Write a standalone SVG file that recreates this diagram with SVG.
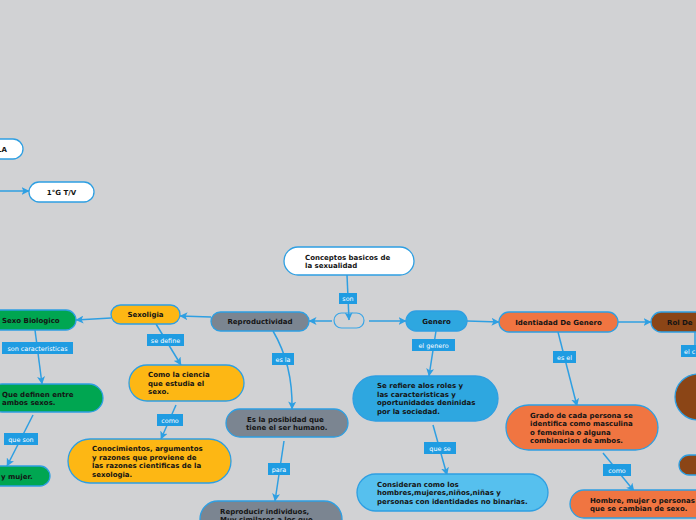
<svg xmlns="http://www.w3.org/2000/svg" width="696" height="520" viewBox="0 0 696 520">
<style>
.n{stroke:#2e9fe2;stroke-width:1.3}
.t{font-family:"DejaVu Sans",Verdana,sans-serif;font-weight:bold;font-size:7px;fill:#141414}
.c{fill:none;stroke:#2e9fe2;stroke-width:1.5}
.lb{fill:#1f9ce2}
.lt{font-family:"DejaVu Sans",Verdana,sans-serif;font-size:6.4px;fill:#ffffff;text-anchor:middle}
.w{fill:#ffffff}.g{fill:#7b8591}.y{fill:#fdb714}.gr{fill:#00a651}.b{fill:#2ea7e0}.lbn{fill:#56c0ee}.o{fill:#f07541}.br{fill:#8b4516}
</style>
<defs>
<marker id="ar" viewBox="0 0 8 8" refX="7.5" refY="4" markerWidth="8" markerHeight="8" orient="auto" markerUnits="userSpaceOnUse">
<path d="M0,0 L8,4 L0,8 L2,4 z" fill="#2e9fe2"/>
</marker>
</defs>
<rect width="696" height="520" fill="#d1d2d4"/>

<g id="connectors">
<path class="c" d="M0,191 L29,191" marker-end="url(#ar)"/>
<path class="c" d="M347,275 L349,320" marker-end="url(#ar)"/>
<path class="c" d="M332,321 L309,321" marker-end="url(#ar)"/>
<path class="c" d="M369,321 L406,321" marker-end="url(#ar)"/>
<path class="c" d="M211,317 L180,316" marker-end="url(#ar)"/>
<path class="c" d="M111,318 L76,320" marker-end="url(#ar)"/>
<path class="c" d="M35,330 L42,384" marker-end="url(#ar)"/>
<path class="c" d="M33,415 L7,466" marker-end="url(#ar)"/>
<path class="c" d="M156,324 L181,365" marker-end="url(#ar)"/>
<path class="c" d="M176,405 L161,439" marker-end="url(#ar)"/>
<path class="c" d="M273,331 Q293,365 292,409" marker-end="url(#ar)"/>
<path class="c" d="M284,441 L275,501" marker-end="url(#ar)"/>
<path class="c" d="M467,321 L499,322" marker-end="url(#ar)"/>
<path class="c" d="M618,322 L651,322" marker-end="url(#ar)"/>
<path class="c" d="M436,331 L429,376" marker-end="url(#ar)"/>
<path class="c" d="M433,425 L447,475" marker-end="url(#ar)"/>
<path class="c" d="M558,332 L577,406" marker-end="url(#ar)"/>
<path class="c" d="M603,453 L634,491" marker-end="url(#ar)"/>
<path class="c" d="M695,332 L695,345"/>
<g id="labels">
<rect class="lb" x="339" y="293" width="18" height="11"/><text class="lt" x="348" y="301">son</text>
<rect class="lb" x="2" y="342" width="71" height="12"/><text class="lt" x="37.5" y="350.5">son caracteristicas</text>
<rect class="lb" x="4" y="433" width="34" height="12"/><text class="lt" x="21" y="441.5">que son</text>
<rect class="lb" x="147" y="334" width="37" height="12"/><text class="lt" x="165.5" y="342.5">se define</text>
<rect class="lb" x="157" y="414" width="26" height="12"/><text class="lt" x="170" y="422.5">como</text>
<rect class="lb" x="272" y="353" width="22" height="12"/><text class="lt" x="283" y="361.5">es la</text>
<rect class="lb" x="268" y="463" width="22" height="12"/><text class="lt" x="279" y="471.5">para</text>
<rect class="lb" x="412" y="339" width="43" height="12"/><text class="lt" x="433.5" y="347.5">el genero</text>
<rect class="lb" x="424" y="442" width="32" height="12"/><text class="lt" x="440" y="450.5">que se</text>
<rect class="lb" x="553" y="351" width="23" height="12"/><text class="lt" x="564.5" y="359.5">es el</text>
<rect class="lb" x="603" y="464" width="28" height="12"/><text class="lt" x="617" y="472.5">como</text>
<rect class="lb" x="681" y="345" width="30" height="12"/><text class="lt" x="684" y="353.5" style="text-anchor:start">el c</text>
</g>
</g>

<g id="node-la"><rect class="n w" x="-20" y="139" width="43" height="20" rx="10"/><text class="t" x="7" y="152" text-anchor="end">LA</text></g>
<g id="node-1g"><rect class="n w" x="29" y="182" width="65" height="20" rx="10"/><text class="t" x="61.5" y="194.5" text-anchor="middle">1°G T/V</text></g>
<g id="node-conceptos"><rect class="n w" x="284" y="247" width="130" height="28" rx="14"/><text class="t" x="305" y="259.5">Conceptos basicos de</text><text class="t" x="305" y="268">la sexualidad</text></g>
<g id="node-hub"><rect x="334" y="313" width="30" height="15" rx="7.5" fill="none" stroke="#3ba6e6" stroke-width="1.2"/></g>
<g id="node-reproductividad"><rect class="n g" x="211" y="312" width="98" height="19" rx="9.5"/><text class="t" x="260" y="324" text-anchor="middle">Reproductividad</text></g>
<g id="node-sexoligia"><rect class="n y" x="111" y="305" width="69" height="19" rx="9.5"/><text class="t" x="145.5" y="317" text-anchor="middle">Sexoligia</text></g>
<g id="node-sexobio"><rect class="n gr" x="-12" y="310" width="88" height="20" rx="10"/><text class="t" x="2" y="323">Sexo Biologico</text></g>
<g id="node-quedefinen"><rect class="n gr" x="-12" y="384" width="115" height="28" rx="14"/><text class="t" x="2" y="396.5">Que definen entre</text><text class="t" x="2" y="405">ambos sexos.</text></g>
<g id="node-ymujer"><rect class="n gr" x="-12" y="466" width="62" height="20" rx="10"/><text class="t" x="1" y="479">y mujer.</text></g>
<g id="node-ciencia"><rect class="n y" x="129" y="365" width="115" height="36" rx="18"/><text class="t" x="148" y="377">Como la ciencia</text><text class="t" x="148" y="385.5">que estudia el</text><text class="t" x="148" y="394">sexo.</text></g>
<g id="node-conocimientos"><rect class="n y" x="68" y="439" width="163" height="44" rx="22"/><text class="t" x="92" y="451">Conocimientos, argumentos</text><text class="t" x="92" y="459.5">y razones que proviene de</text><text class="t" x="92" y="468">las razones cientificas de la</text><text class="t" x="92" y="476.5">sexologia.</text></g>
<g id="node-posibidad"><rect class="n g" x="226" y="409" width="122" height="28" rx="14"/><text class="t" x="247" y="421.5">Es la posibidad que</text><text class="t" x="246" y="430">tiene el ser humano.</text></g>
<g id="node-reproducir"><rect class="n g" x="200" y="501" width="142" height="40" rx="18"/><text class="t" x="220" y="513.5">Reproducir individuos,</text><text class="t" x="220" y="522">Muy similares a los que</text></g>
<g id="node-genero"><rect class="n b" x="406" y="311" width="61" height="20" rx="10"/><text class="t" x="436.5" y="324" text-anchor="middle">Genero</text></g>
<g id="node-identidad"><rect class="n o" x="499" y="312" width="119" height="20" rx="10"/><text class="t" x="558.5" y="325" text-anchor="middle">Identiadad De Genero</text></g>
<g id="node-rol"><rect class="n br" x="651" y="312" width="70" height="20" rx="10"/><text class="t" x="667" y="325">Rol De</text></g>
<g id="node-roles"><rect class="n b" x="353" y="376" width="145" height="45" rx="22.5"/><text class="t" x="377" y="388">Se refiere alos roles y</text><text class="t" x="377" y="396.5">las caracteristicas y</text><text class="t" x="377" y="405">oportunidades deninidas</text><text class="t" x="377" y="413.5">por la sociedad.</text></g>
<g id="node-consideran"><rect class="n lbn" x="357" y="474" width="191" height="37" rx="18.5"/><text class="t" x="377" y="486.5">Consideran como los</text><text class="t" x="377" y="495">hombres,mujeres,niños,niñas y</text><text class="t" x="377" y="503.5">personas con identidades no binarias.</text></g>
<g id="node-grado"><rect class="n o" x="506" y="405" width="152" height="45" rx="22.5"/><text class="t" x="530" y="417.5">Grado de cada persona se</text><text class="t" x="530" y="426">identifica como masculina</text><text class="t" x="530" y="434.5">o femenina o alguna</text><text class="t" x="530" y="443">combinacion de ambos.</text></g>
<g id="node-hombre"><rect class="n o" x="570" y="490" width="150" height="28" rx="14"/><text class="t" x="590" y="502.5">Hombre, mujer o personas</text><text class="t" x="590" y="511">que se cambian de sexo.</text></g>
<g id="node-circle"><circle class="n br" cx="698" cy="397" r="23"/></g>
<g id="node-brownsmall"><rect class="n br" x="679" y="455" width="45" height="20" rx="10"/></g>
</svg>
